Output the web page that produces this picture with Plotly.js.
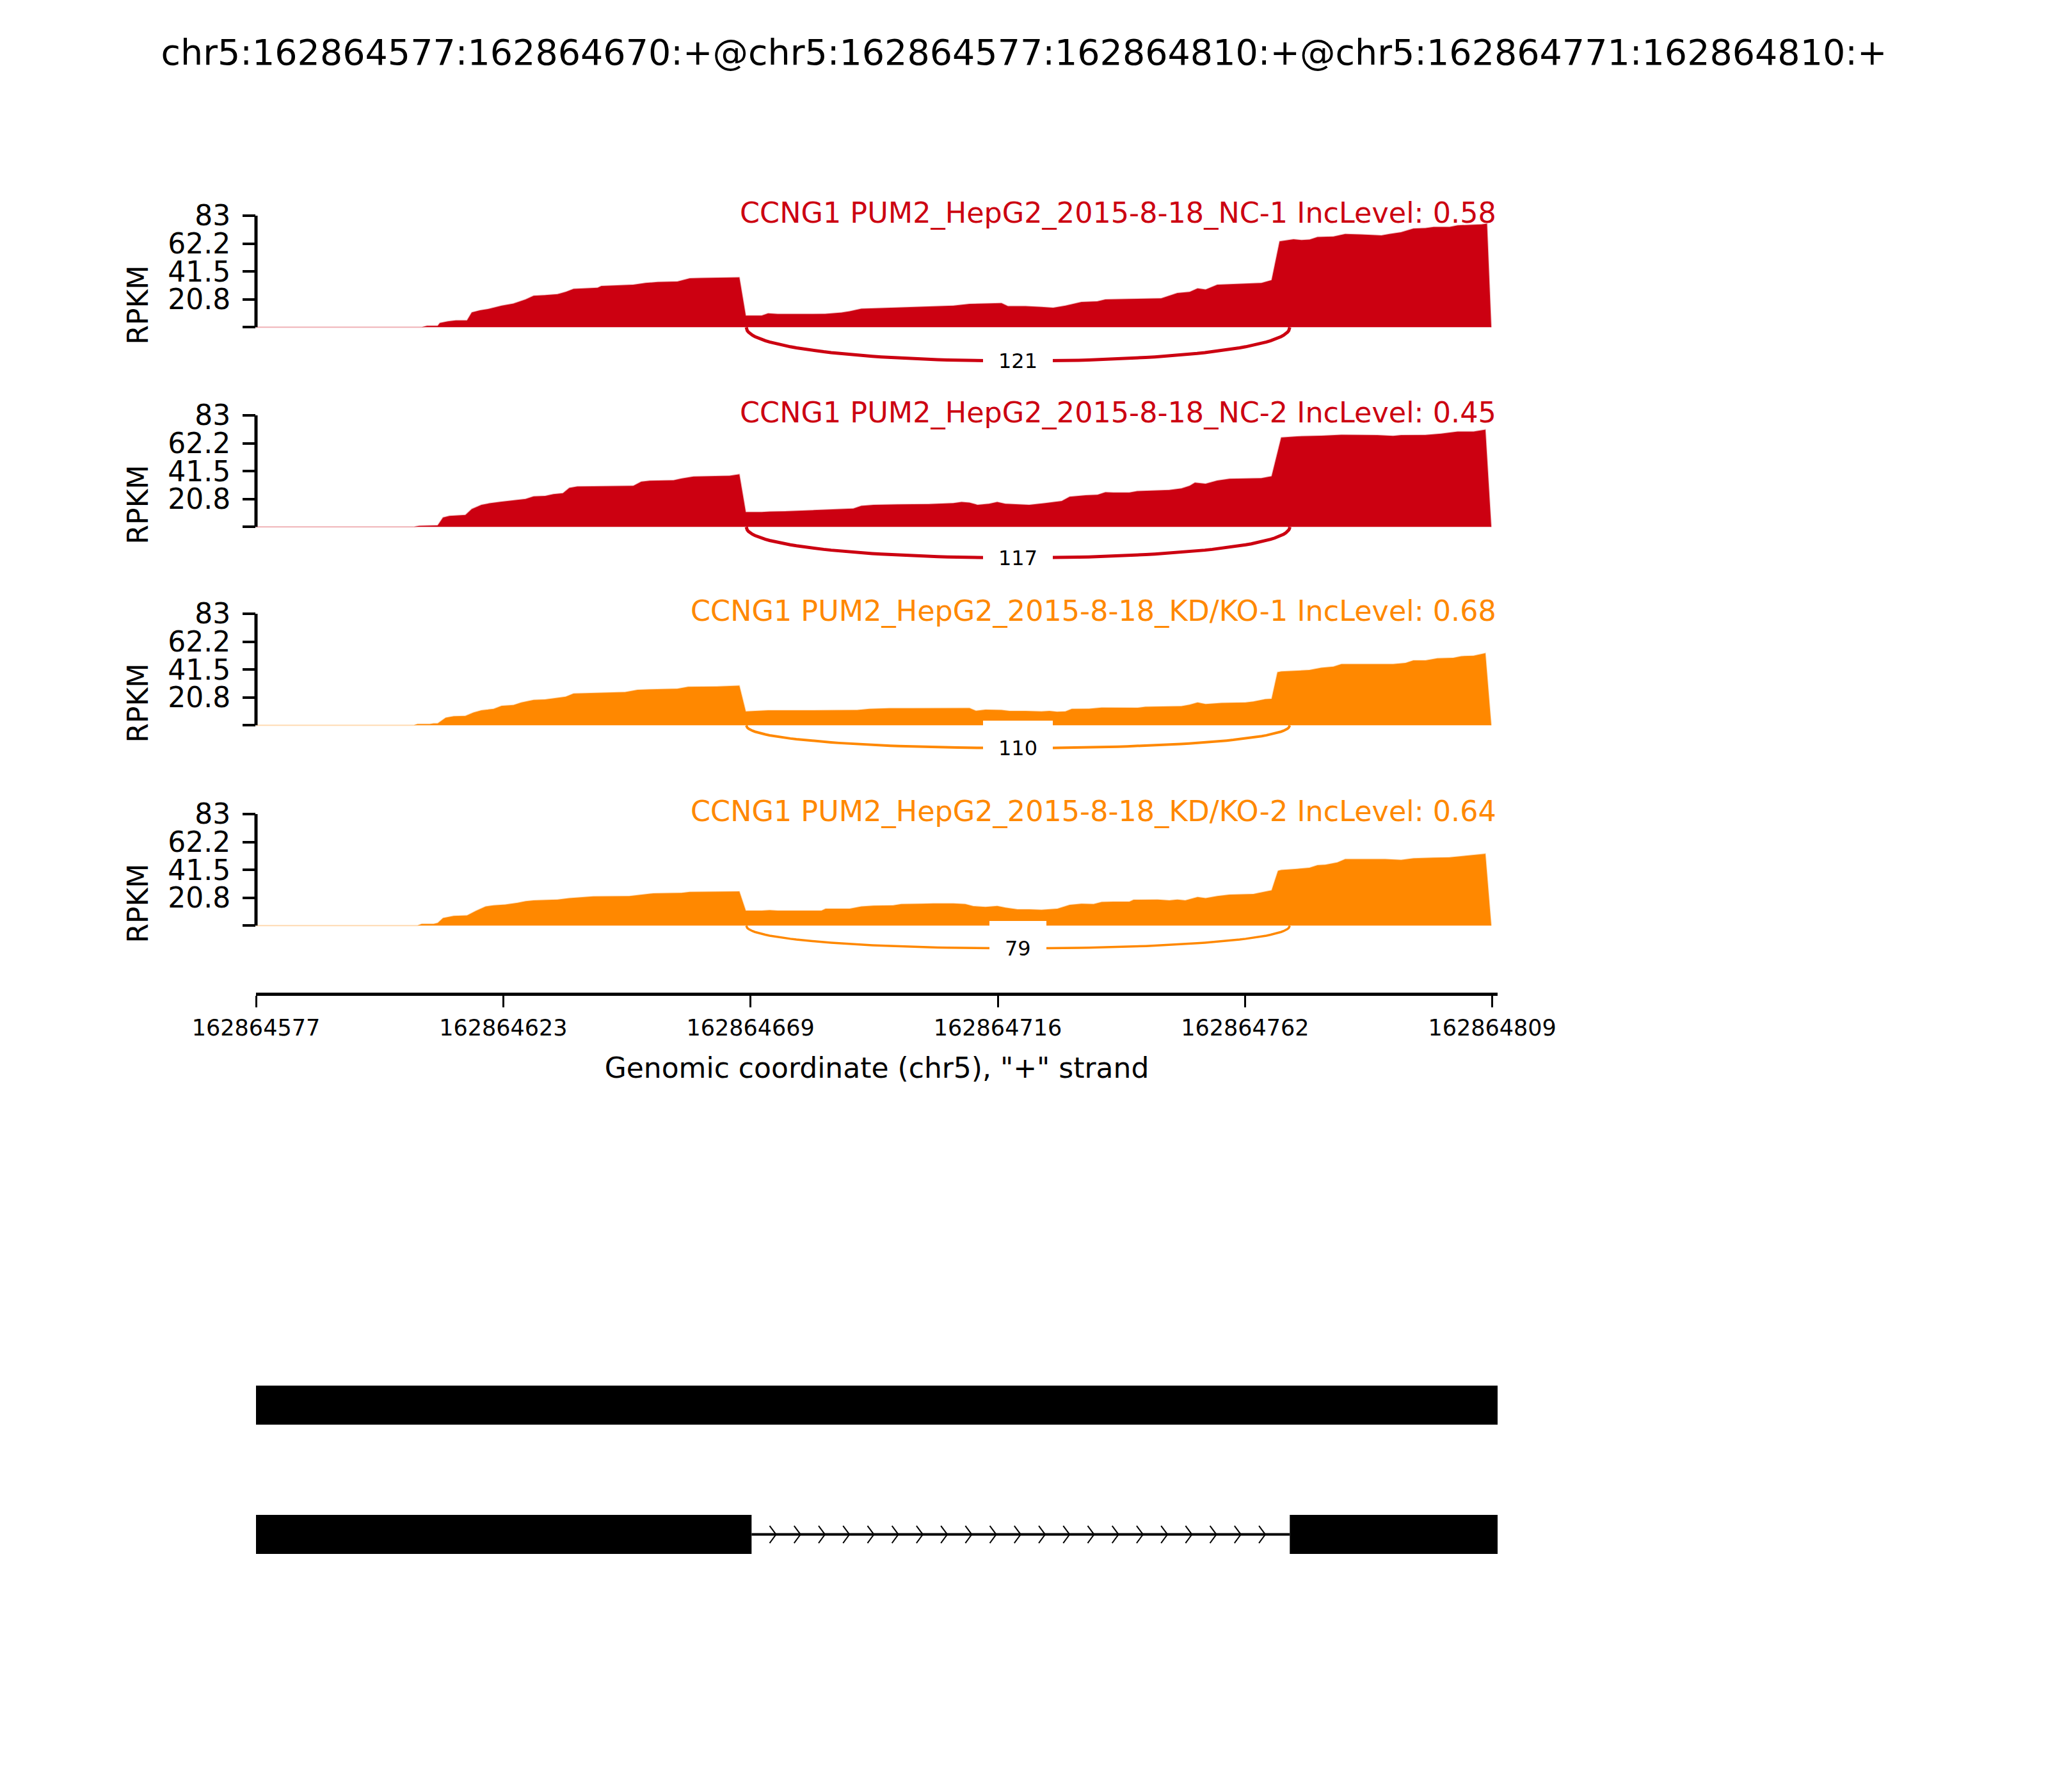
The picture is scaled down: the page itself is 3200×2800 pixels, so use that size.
<!DOCTYPE html>
<html>
<head>
<meta charset="utf-8">
<script src="https://cdn.plot.ly/plotly-3.0.1.min.js"></script>
<style>html,body{margin:0;padding:0;background:#ffffff;}</style>
</head>
<body>
<div id="chart" style="width:3200px;height:2800px;"></div>
<script>
// ---------------- DATA ----------------
const CHART_TITLE = "chr5:162864577:162864670:+@chr5:162864577:162864810:+@chr5:162864771:162864810:+";
const REGION_START = 162864577;
const REGION_END = 162864810;
const X_TITLE = 'Genomic coordinate (chr5), "+" strand';
const XTICK_LABELS = ["162864577", "162864623", "162864669", "162864716", "162864762", "162864809"];
const Y_MAX = 83;
const YTICK_LABELS = ["", "20.8", "41.5", "62.2", "83"];
const Y_TITLE = "RPKM";

const SAMPLE_LABELS = [
  "CCNG1 PUM2_HepG2_2015-8-18_NC-1 IncLevel: 0.58",
  "CCNG1 PUM2_HepG2_2015-8-18_NC-2 IncLevel: 0.45",
  "CCNG1 PUM2_HepG2_2015-8-18_KD/KO-1 IncLevel: 0.68",
  "CCNG1 PUM2_HepG2_2015-8-18_KD/KO-2 IncLevel: 0.64"
];
const SAMPLE_GROUPS = ["NC", "NC", "KD", "KD"];

// coverage: positions as offsets (bp) from REGION_START, values in RPKM
const COV1_POS = [0,31.1,32.1,34.1,34.5,36,37.5,39.6,40.5,42,43.8,46.1,48.3,50.6,52.1,54.3,56.6,58.1,59.6,61.8,64.1,64.8,68.6,70.8,73.1,75.4,79.1,81.4,83.6,90.7,91.9,94.9,96.1,97.9,106.9,109.9,111.4,113.6,117.4,121.9,126.4,130.9,133.9,139.9,141.1,144.4,147.4,149.6,151.9,154.9,157.9,159.4,163.9,169.9,172.9,175.2,176.7,178.2,180.4,184.9,188.7,190.6,192.1,194.7,196.2,197.7,199.2,202.2,204.4,207.4,211.2,212.7,214.9,217.2,219.5,221,224,225.5,227.7,230,231,231.8];
const COV1_VAL = [0,0,1,1,3.1,4.4,5,5,11,12.5,13.7,16,17.6,20.7,23.4,23.8,24.6,26.2,28.5,29,29.3,30.7,31.2,31.6,32.9,33.6,34,36.3,36.6,37.1,8.6,8.6,10.3,9.8,9.9,10.9,11.8,13.7,14.2,14.8,15.3,16,17.3,17.9,15.7,15.6,15.1,14.5,16,18.8,19.2,20.7,21,21.5,25.4,26.2,28.8,28,31.6,32.4,32.9,35,63.9,65.4,64.8,65.1,67.1,67.4,69.3,69,68.2,69.3,70.6,73.4,73.7,74.5,74.6,75.7,76,76.5,77,0];

const COV2_POS = [0,29.6,30.6,33.6,34.1,35.1,36.3,39.3,40.5,42.3,43.8,46.1,49.1,50.6,52.1,54.3,55.8,57.6,58.8,60.3,63.3,70.8,72.3,73.9,78.4,79.9,82.1,85.9,88.9,90.7,91.9,94.9,96.4,99.4,102.4,105.4,109.9,112.1,113.6,115.9,120.4,126.4,130.9,132.4,133.9,135.4,137.6,139.1,140.6,142.9,145.1,148.1,151.2,152.7,155.7,157.9,159.4,160.9,163.9,165.4,171.4,173.7,175.2,176.2,178.2,180.4,182.7,188.7,190.6,192.4,195.4,199.9,203.7,207.4,210.4,213.4,214.9,219.5,222.4,225.5,228.5,230.7,231.8];
const COV2_VAL = [0,0,0.8,0.8,1.1,7,8.1,8.9,13.3,16.4,17.5,18.8,19.9,20.8,22.7,23,24.3,25,29,30,30.2,30.5,33.6,34.3,34.7,36,37.4,37.6,38,39.1,11,11,11.4,11.6,12,12.5,13,13.6,15.6,16.4,16.7,16.9,17.7,18.5,18,16.4,17.2,18.5,17.2,16.7,16.4,17.7,19.2,22.4,23.5,23.8,25.8,25.5,25.5,26.6,27.4,28.6,30.5,32.9,32.1,34.4,35.8,36.2,37.7,66.5,67.3,67.8,68.5,68.4,68.2,67.6,68.2,68.4,69.3,70.9,70.9,72.3,0];

const COV3_POS = [0,29.6,30.3,32.6,33.3,34.1,35.6,37.1,39.3,40.8,42.3,44.6,46.1,48.3,49.8,52.1,54.3,56.6,58.1,59.6,63.3,69.3,71.6,73.9,79.1,81.1,86.6,90.7,91.9,96.1,103.9,112.9,115.1,118.9,123.4,127.9,133.9,135.1,136.9,139.9,141.4,144.4,147.4,148.9,150.4,151.9,153.1,156.4,158.7,165.4,166.9,173.7,175.2,176.7,178.2,181.2,185.7,187.2,189.4,190.6,191.7,192.4,195.4,197.7,199.9,202.2,203.7,208.9,210.4,213.4,215.7,217.2,219.5,221.7,224.7,226.2,228.5,230.7,231.8];
const COV3_VAL = [0,0,0.9,0.9,1.4,1.4,5.6,6.7,7,9.5,11.1,12.2,14.5,15,17,18.9,19.2,20.2,21.2,23.6,23.9,24.7,26.3,26.7,27.2,28.6,28.8,29.5,10.3,11.1,11.1,11.4,12.2,12.7,12.7,12.8,12.8,10.8,11.6,11.4,10.6,10.6,10.3,10.6,10,10.3,12.2,12.3,13.1,13,13.8,14.2,15.3,17,15.8,16.6,17,17.7,19.4,19.7,39.5,40,40.8,41.1,42.8,43.6,45.5,45.5,45.8,45.5,46.3,48.3,48.3,49.8,50.2,51.4,51.7,53.6,0];

const COV4_POS = [0,30.3,31.1,33.3,34.1,35.1,37.1,39.6,41.3,43.1,44.6,46.8,49.1,50.6,52.1,56.6,58.8,61.1,63.3,70.1,72.3,74.6,79.9,81.4,90.7,91.9,94.9,96.4,97.9,106.1,106.9,111.4,113.6,115.9,119.6,121.1,124.9,127.1,130.9,133.1,134.6,136.9,139.1,140.6,142.9,145.1,147.4,150.4,152.7,154.9,157.2,158.7,160.9,163.9,164.7,169.2,171.4,172.9,174.4,176.7,178.2,180.4,182.7,187.2,189.1,190.6,191.8,192.4,195.4,197.7,199.2,200.7,202.9,204.4,205.9,211.9,214.9,217.2,221,224,227,230,230.7,231.8];
const COV4_VAL = [0,0,1.2,1.2,2,5.6,7.2,7.5,11,14.2,15,15.7,17,18.1,18.8,19.3,20.4,21.2,21.7,22,23,24,24.3,25.1,25.4,11.1,11.1,11.5,11.1,11.1,12.5,12.6,14.2,14.8,15,16,16.2,16.5,16.5,16,14.5,13.9,14.6,13.4,12.1,12.1,11.7,12.6,15.4,16.2,16,17.6,17.8,17.8,19.2,19.3,18.8,19.3,18.8,21.2,20.4,22,23,23.5,25.1,26.2,40.7,41.4,42.2,43,44.9,45.3,46.9,49.5,49.5,49.5,48.9,50,50.5,50.8,51.9,53.1,53.4,0];

// junction and its read counts per sample
const JUNCTION_START = 162864669;
const JUNCTION_END = 162864771;
const JUNCTION_COUNTS = [121, 117, 110, 79];

// gene model (isoform index 1 = top, 0 = bottom)
const EXON_STARTS = [162864577, 162864577, 162864771];
const EXON_ENDS   = [162864810, 162864670, 162864810];
const EXON_ISOFORM = [1, 0, 0];
const INTRON_STARTS = [162864670];
const INTRON_ENDS = [162864771];
const INTRON_ISOFORM = [0];

// ---------------- STYLE ----------------
const GROUP_COLORS = {NC: "#CC0011", KD: "#FF8800"};
const GROUP_FAINT = {NC: "rgba(204,0,17,0.30)", KD: "rgba(255,136,0,0.30)"};
const FONT = "DejaVu Sans, sans-serif";
const W = 3200, H = 2800;
const PLOT_L = 400, PLOT_R = 2340;
const PANEL_TOPS = [337, 649, 959, 1272];   // px
const PANEL_H = 279;                         // px
const Y_BOTTOM = -49.8;                      // lower y-limit of every panel
const ARC_DEPTH = [25.1, 23.0, 16.9, 16.9];  // arc depth below baseline (data units)
const ARC_WIDTH = [5, 5, 4, 3.5];
const GENE_TOP = 2100, GENE_BOT = 2500;
const GENE_RANGE = [-0.507, 1.473];
const EXON_THICK = 0.302;
const CHEVRON_N = 21, CHEVRON_DX = 1.2, CHEVRON_DY = 0.067;

// ---------------- BUILD ----------------
const covPos = [COV1_POS, COV2_POS, COV3_POS, COV4_POS];
const covVal = [COV1_VAL, COV2_VAL, COV3_VAL, COV4_VAL];

function linspace(a, b, n) {
  const out = [];
  for (let i = 0; i < n; i++) out.push(a + (b - a) * i / (n - 1));
  return out;
}
function bezierArc(s, e, depth, n) {
  const c = -depth / 0.75;
  const xs = [], ys = [];
  for (let i = 0; i <= n; i++) {
    const t = i / n, m = 1 - t;
    xs.push(m*m*m*s + 3*m*m*t*s + 3*m*t*t*e + t*t*t*e);
    ys.push(3*m*m*t*c + 3*m*t*t*c);
  }
  return {xs, ys};
}

const traces = [];
const annotations = [];
const shapes = [];
const layout = {
  width: W, height: H,
  margin: {l: PLOT_L, r: W - PLOT_R, t: 0, b: 0, pad: 0},
  paper_bgcolor: "#ffffff", plot_bgcolor: "#ffffff",
  showlegend: false,
  font: {family: FONT, color: "#000000"},
  barmode: "overlay",
  title: {
    text: CHART_TITLE,
    font: {family: FONT, size: 55.5, color: "#000000"},
    xref: "container", x: 0.5, xanchor: "center",
    yref: "container", y: 1 - 82 / H, yanchor: "middle"
  }
};

const xTickVals = linspace(Number(XTICK_LABELS[0]), Number(XTICK_LABELS[XTICK_LABELS.length - 1]), XTICK_LABELS.length);
const yTickVals = linspace(0, Y_MAX, YTICK_LABELS.length);

for (let p = 0; p < 4; p++) {
  const n = p + 1;
  const xa = "x" + (n === 1 ? "" : n), ya = "y" + (n === 1 ? "" : n);
  const xKey = "xaxis" + (n === 1 ? "" : n), yKey = "yaxis" + (n === 1 ? "" : n);
  const color = GROUP_COLORS[SAMPLE_GROUPS[p]];
  const top = PANEL_TOPS[p];
  const dom = [1 - (top + PANEL_H) / H, 1 - top / H];
  const isLast = p === 3;

  layout[xKey] = {
    domain: [0, 1], anchor: ya,
    range: [REGION_START, REGION_END],
    showgrid: false, zeroline: false,
    showline: isLast, linewidth: 5, linecolor: "#000000",
    ticks: isLast ? "outside" : "", ticklen: 18, tickwidth: 3, tickcolor: "#000000",
    showticklabels: isLast,
    tickmode: "array", tickvals: xTickVals, ticktext: XTICK_LABELS,
    tickfont: {family: FONT, size: 35, color: "#000000"},
    ticklabelstandoff: 2,
    title: isLast ? {text: X_TITLE, font: {family: FONT, size: 44, color: "#000000"}, standoff: 30} : {text: ""},
    fixedrange: true
  };
  layout[yKey] = {
    domain: dom, anchor: xa,
    range: [Y_BOTTOM, Y_MAX],
    showgrid: false, zeroline: false, showline: false,
    ticks: "outside", ticklen: 20, tickwidth: 4, tickcolor: "#000000",
    tickmode: "array", tickvals: yTickVals, ticktext: YTICK_LABELS,
    tickfont: {family: FONT, size: 44, color: "#000000"},
    ticklabelstandoff: 10,
    title: {text: Y_TITLE, font: {family: FONT, size: 44, color: "#000000"}, standoff: 16},
    fixedrange: true
  };

  // coverage
  traces.push({
    type: "scatter", mode: "lines",
    x: covPos[p].map(d => REGION_START + d), y: covVal[p],
    xaxis: xa, yaxis: ya,
    fill: "tozeroy", fillcolor: color,
    line: {color: GROUP_FAINT[SAMPLE_GROUPS[p]], width: 2, shape: "linear"},
    hoverinfo: "skip"
  });

  // junction arc
  const arc = bezierArc(JUNCTION_START, JUNCTION_END, ARC_DEPTH[p], 80);
  traces.push({
    type: "scatter", mode: "lines",
    x: arc.xs, y: arc.ys, xaxis: xa, yaxis: ya,
    line: {color: color, width: ARC_WIDTH[p]}, hoverinfo: "skip"
  });
  annotations.push({
    xref: xa, yref: ya,
    x: (JUNCTION_START + JUNCTION_END) / 2, y: -ARC_DEPTH[p],
    text: String(JUNCTION_COUNTS[p]),
    showarrow: false, xanchor: "center", yanchor: "middle",
    font: {family: FONT, size: 32, color: "#000000"},
    bgcolor: "#ffffff", borderpad: 24, borderwidth: 0
  });

  // sample label
  annotations.push({
    xref: "paper", yref: ya, x: 1, y: Y_MAX,
    text: SAMPLE_LABELS[p], showarrow: false,
    xanchor: "right", yanchor: "middle", yshift: 4,
    font: {family: FONT, size: 44.5, color: color}
  });

  // bounded y spine (0 .. Y_MAX)
  shapes.push({
    type: "line", xref: "paper", yref: ya,
    x0: 0, x1: 0, y0: 0, y1: Y_MAX,
    line: {color: "#000000", width: 5}, layer: "above"
  });
}

// gene model subplot
layout.xaxis5 = {
  domain: [0, 1], anchor: "y5", range: [REGION_START, REGION_END],
  visible: false, showgrid: false, zeroline: false, fixedrange: true
};
layout.yaxis5 = {
  domain: [1 - GENE_BOT / H, 1 - GENE_TOP / H], anchor: "x5", range: GENE_RANGE,
  visible: false, showgrid: false, zeroline: false, fixedrange: true
};

// introns with chevrons
for (let i = 0; i < INTRON_STARTS.length; i++) {
  const s = INTRON_STARTS[i], e = INTRON_ENDS[i], yv = INTRON_ISOFORM[i];
  traces.push({
    type: "scatter", mode: "lines", x: [s, e], y: [yv, yv],
    xaxis: "x5", yaxis: "y5", line: {color: "#000000", width: 4}, hoverinfo: "skip"
  });
  const step = (e - s) / (CHEVRON_N + 1);
  const cx = [], cy = [];
  for (let k = 1; k <= CHEVRON_N; k++) {
    const px = s + step * k;
    cx.push(px - CHEVRON_DX, px, px - CHEVRON_DX, null);
    cy.push(yv + CHEVRON_DY, yv, yv - CHEVRON_DY, null);
  }
  traces.push({
    type: "scatter", mode: "lines", x: cx, y: cy,
    xaxis: "x5", yaxis: "y5", line: {color: "#000000", width: 2}, hoverinfo: "skip"
  });
}
// exons
traces.push({
  type: "bar", orientation: "h",
  base: EXON_STARTS,
  x: EXON_ENDS.map((e, i) => e - EXON_STARTS[i]),
  y: EXON_ISOFORM,
  width: EXON_THICK,
  xaxis: "x5", yaxis: "y5",
  marker: {color: "#000000", line: {width: 0}},
  hoverinfo: "skip"
});

layout.annotations = annotations;
layout.shapes = shapes;

Plotly.newPlot("chart", traces, layout, {staticPlot: true, displayModeBar: false});
</script>
</body>
</html>
